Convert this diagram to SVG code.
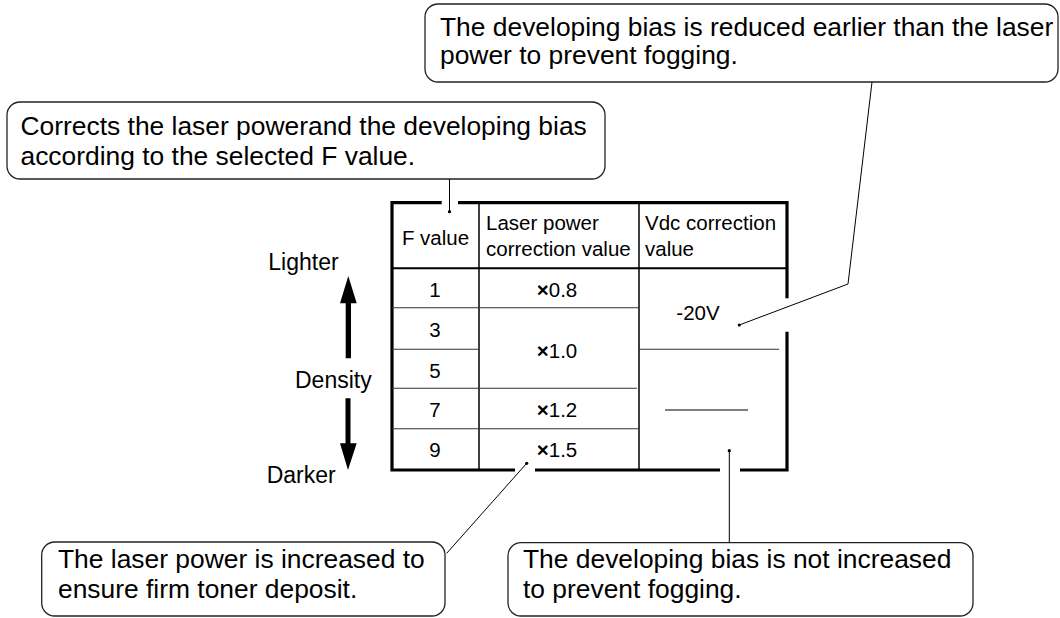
<svg xmlns="http://www.w3.org/2000/svg" width="1060" height="618" viewBox="0 0 1060 618">
<style>
.call{fill:#fff;stroke:#222;stroke-width:1.3}
.ct{font-family:"Liberation Sans",Arial,sans-serif;font-size:26.4px;fill:#000}
.tt{font-family:"Liberation Sans",Arial,sans-serif;font-size:20.5px;fill:#000}
.dt{font-family:"Liberation Sans",Arial,sans-serif;font-size:23px;fill:#000}
.mid{text-anchor:middle}
.x{font-weight:bold}
.border{fill:none;stroke:#000;stroke-width:3.2}
.col{stroke:#000;stroke-width:1.5;fill:none}
.row{stroke:#333;stroke-width:1.1;fill:none}
.lead{stroke:#000;stroke-width:1;fill:none}
.dot{fill:#000}
</style>
<rect width="1060" height="618" fill="#fff"/>

<g id="table">
  <path class="border" d="M392 202.7H441.7M458 202.7H787M392 201V471.5M787 201V298.3M787 331.7V471.5M392 470H515M535 470H720M740 470H787"/>
  <path class="col" d="M479 202.7V470M639 202.7V470"/>
  <path d="M392 268.3H787" stroke="#000" stroke-width="2" fill="none"/>
  <path class="row" d="M392 307.7H639M392 349.3H479M639 349.3H779M392 388.3H637M392 428.7H639"/>
  <path d="M665 410H748" stroke="#000" stroke-width="1.2"/>
  <text class="tt mid" x="435.5" y="245">F value</text>
  <text class="tt" x="486" y="230">Laser power</text>
  <text class="tt" x="486" y="256">correction value</text>
  <text class="tt" x="645" y="230">Vdc correction</text>
  <text class="tt" x="645" y="256">value</text>
  <text class="tt mid" x="435" y="296.7">1</text>
  <text class="tt mid" x="435" y="336.7">3</text>
  <text class="tt mid" x="435" y="378.3">5</text>
  <text class="tt mid" x="435" y="416.7">7</text>
  <text class="tt mid" x="435" y="456.7">9</text>
  <text class="tt mid" x="557" y="296.7"><tspan class="x">×</tspan>0.8</text>
  <text class="tt mid" x="557" y="358.3"><tspan class="x">×</tspan>1.0</text>
  <text class="tt mid" x="557" y="416.7"><tspan class="x">×</tspan>1.2</text>
  <text class="tt mid" x="557" y="456.7"><tspan class="x">×</tspan>1.5</text>
  <text class="tt mid" x="698" y="320">-20V</text>
</g>

<g id="density">
  <text class="dt" x="268.3" y="270">Lighter</text>
  <polygon points="348.3,276 356.7,303.3 351,303.3 351,358.3 345.7,358.3 345.7,303.3 340,303.3"/>
  <text class="dt" x="295" y="388">Density</text>
  <polygon points="348,470 356.7,443.3 350.5,443.3 350.5,398.3 345.5,398.3 345.5,443.3 340,443.3"/>
  <text class="dt" x="266.7" y="483">Darker</text>
</g>

<g id="callout-top-left">
  <rect class="call" x="7" y="102" width="598" height="77" rx="13"/>
  <text class="ct" x="20.5" y="135">Corrects the laser powerand the developing bias</text>
  <text class="ct" x="20.5" y="165">according to the selected F value.</text>
</g>

<g id="callout-top-right">
  <rect class="call" x="425" y="4" width="633" height="78" rx="13"/>
  <text class="ct" x="440" y="35.5">The developing bias is reduced earlier than the laser</text>
  <text class="ct" x="440" y="64">power to prevent fogging.</text>
</g>

<g id="callout-bottom-left">
  <rect class="call" x="41.7" y="542" width="403.3" height="74" rx="13"/>
  <text class="ct" x="58" y="568">The laser power is increased to</text>
  <text class="ct" x="58" y="598">ensure firm toner deposit.</text>
</g>

<g id="callout-bottom-right">
  <rect class="call" x="508" y="542.7" width="465" height="73.3" rx="13"/>
  <text class="ct" x="523" y="568">The developing bias is not increased</text>
  <text class="ct" x="523" y="598">to prevent fogging.</text>
</g>

<g id="connectors">
  <path class="lead" d="M449.5 179V211.5"/>
  <circle class="dot" cx="449.5" cy="211.7" r="1.6"/>
  <path class="lead" d="M872 82L848 284L739.3 325"/>
  <circle class="dot" cx="739.3" cy="325" r="1.6"/>
  <path class="lead" d="M446.7 553.3L526.7 463.3"/>
  <circle class="dot" cx="526.7" cy="463.3" r="1.6"/>
  <path class="lead" d="M729.3 542.7V450.7"/>
  <circle class="dot" cx="729.3" cy="450.7" r="1.6"/>
</g>
</svg>
